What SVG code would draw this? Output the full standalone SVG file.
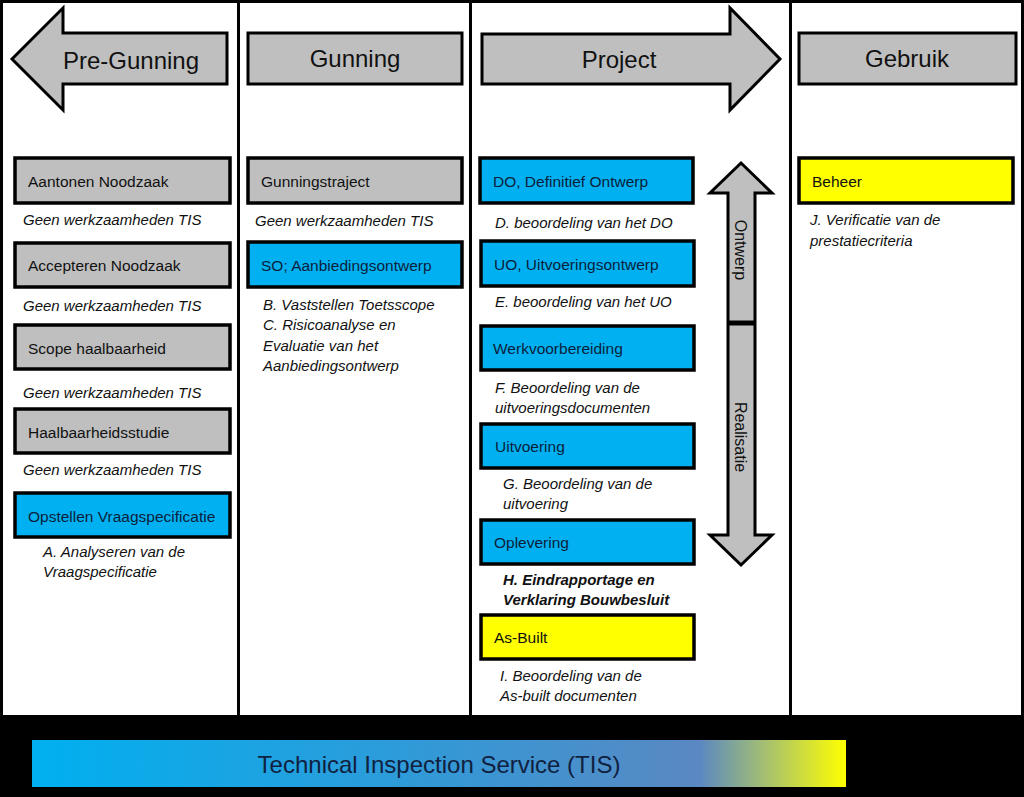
<svg xmlns="http://www.w3.org/2000/svg" width="1024" height="797" viewBox="0 0 1024 797">
<defs>
<linearGradient id="tis" x1="0" y1="0" x2="1" y2="0">
<stop offset="0" stop-color="#00B0F0"/>
<stop offset="0.45" stop-color="#2E9BD9"/>
<stop offset="0.82" stop-color="#5A88C2"/>
<stop offset="0.9" stop-color="#A4BF72"/>
<stop offset="1" stop-color="#FFFF00"/>
</linearGradient>
</defs>
<style>
.col{fill:#FFFFFF}
.hdr{fill:#BFBFBF;stroke:#000;stroke-width:3;stroke-linejoin:miter}
.htxt{font-family:"Liberation Sans",Arial,sans-serif;font-size:24px;fill:#111;text-anchor:middle}
.box{stroke:#000;stroke-width:3.5}
.gray{fill:#BFBFBF}
.blue{fill:#00B0F0}
.yellow{fill:#FFFF00}
.btxt{font-family:"Liberation Sans",Arial,sans-serif;font-size:15.5px;fill:#111}
.bbtxt{font-family:"Liberation Sans",Arial,sans-serif;font-size:15.5px;fill:#0B1E3B}
.note{font-family:"Liberation Sans",Arial,sans-serif;font-size:15px;font-style:italic;fill:#111}
.noteb{font-family:"Liberation Sans",Arial,sans-serif;font-size:15px;font-style:italic;font-weight:bold;fill:#111}
.vtxt{font-family:"Liberation Sans",Arial,sans-serif;font-size:16px;fill:#111;text-anchor:middle}
</style>
<rect x="0" y="0" width="1024" height="797" fill="#000"/>
<g id="columns">
<rect class="col" x="3" y="3" width="234" height="712"/>
<rect class="col" x="240" y="3" width="229" height="712"/>
<rect class="col" x="472" y="3" width="317" height="712"/>
<rect class="col" x="792" y="3" width="229" height="712"/>
</g>
<g id="hdr-pregunning">
<polygon class="hdr" points="12,59 63,8 63,33 227,33 227,84 63,84 63,110"/>
<text class="htxt" x="131" y="69">Pre-Gunning</text>
</g>
<g id="hdr-gunning">
<rect class="hdr" x="248" y="33" width="214" height="51"/>
<text class="htxt" x="355" y="67">Gunning</text>
</g>
<g id="hdr-project">
<polygon class="hdr" points="482,34 730,34 730,8 780,59 730,110 730,84 482,84"/>
<text class="htxt" x="619" y="68">Project</text>
</g>
<g id="hdr-gebruik">
<rect class="hdr" x="799" y="33" width="217" height="51"/>
<text class="htxt" x="907" y="67">Gebruik</text>
</g>

<g id="n-aantonen">
<rect class="box gray" x="15" y="158" width="215" height="45"/>
<text class="btxt" x="28" y="187">Aantonen Noodzaak</text>
</g>
<text class="note" x="23" y="225">Geen werkzaamheden TIS</text>
<g id="n-accepteren">
<rect class="box gray" x="15" y="243" width="215" height="44"/>
<text class="btxt" x="28" y="271">Accepteren Noodzaak</text>
</g>
<text class="note" x="23" y="311">Geen werkzaamheden TIS</text>
<g id="n-scope">
<rect class="box gray" x="15" y="325" width="215" height="44"/>
<text class="btxt" x="28" y="354">Scope haalbaarheid</text>
</g>
<text class="note" x="23" y="398">Geen werkzaamheden TIS</text>
<g id="n-haalbaarheid">
<rect class="box gray" x="15" y="409" width="215" height="44"/>
<text class="btxt" x="28" y="438">Haalbaarheidsstudie</text>
</g>
<text class="note" x="23" y="475">Geen werkzaamheden TIS</text>
<g id="n-opstellen">
<rect class="box blue" x="15" y="493" width="215" height="44"/>
<text class="bbtxt" x="28" y="522">Opstellen Vraagspecificatie</text>
</g>
<text class="note" x="43" y="557">A. Analyseren van de</text>
<text class="note" x="43" y="577">Vraagspecificatie</text>

<g id="n-gunningstraject">
<rect class="box gray" x="248" y="158" width="214" height="45"/>
<text class="btxt" x="261" y="187">Gunningstraject</text>
</g>
<text class="note" x="255" y="226">Geen werkzaamheden TIS</text>
<g id="n-so">
<rect class="box blue" x="248" y="242" width="214" height="45"/>
<text class="bbtxt" x="261" y="271">SO; Aanbiedingsontwerp</text>
</g>
<text class="note" x="263" y="310">B. Vaststellen Toetsscope</text>
<text class="note" x="263" y="330">C. Risicoanalyse en</text>
<text class="note" x="263" y="351">Evaluatie van het</text>
<text class="note" x="263" y="371">Aanbiedingsontwerp</text>

<g id="n-do">
<rect class="box blue" x="480" y="158" width="213" height="45"/>
<text class="bbtxt" x="493" y="187">DO, Definitief Ontwerp</text>
</g>
<text class="note" x="495" y="228">D. beoordeling van het DO</text>
<g id="n-uo">
<rect class="box blue" x="481" y="241" width="213" height="45"/>
<text class="bbtxt" x="494" y="270">UO, Uitvoeringsontwerp</text>
</g>
<text class="note" x="495" y="307">E. beoordeling van het UO</text>
<g id="n-werkvoorbereiding">
<rect class="box blue" x="481" y="326" width="213" height="44"/>
<text class="bbtxt" x="493" y="354">Werkvoorbereiding</text>
</g>
<text class="note" x="495" y="393">F. Beoordeling van de</text>
<text class="note" x="495" y="413">uitvoeringsdocumenten</text>
<g id="n-uitvoering">
<rect class="box blue" x="481" y="424" width="213" height="44"/>
<text class="bbtxt" x="495" y="452">Uitvoering</text>
</g>
<text class="note" x="503" y="489">G. Beoordeling van de</text>
<text class="note" x="503" y="509">uitvoering</text>
<g id="n-oplevering">
<rect class="box blue" x="481" y="520" width="213" height="44"/>
<text class="bbtxt" x="494" y="548">Oplevering</text>
</g>
<text class="noteb" x="503" y="585">H. Eindrapportage en</text>
<text class="noteb" x="503" y="605">Verklaring Bouwbesluit</text>
<g id="n-asbuilt">
<rect class="box yellow" x="481" y="615" width="213" height="44"/>
<text class="btxt" x="494" y="643">As-Built</text>
</g>
<text class="note" x="500" y="681">I. Beoordeling van de</text>
<text class="note" x="500" y="701">As-built documenten</text>

<g id="n-beheer">
<rect class="box yellow" x="799" y="158" width="214" height="45"/>
<text class="btxt" x="812" y="187">Beheer</text>
</g>
<text class="note" x="810" y="225">J. Verificatie van de</text>
<text class="note" x="810" y="246">prestatiecriteria</text>

<g id="ontwerp-realisatie">
<polygon class="hdr" points="741,163 772,193 755,193 755,535 772,535 741,565 710,535 728,535 728,193 710,193"/>
<line x1="728" y1="323" x2="755" y2="323" stroke="#000" stroke-width="5"/>
<text class="vtxt" transform="translate(741,250) rotate(90)" x="0" y="6">Ontwerp</text>
<text class="vtxt" transform="translate(741,437) rotate(90)" x="0" y="6">Realisatie</text>
</g>

<g id="connectors"/>

<g id="tis-bar">
<rect x="32" y="740" width="814" height="47" fill="url(#tis)"/>
<text x="439" y="773" font-family="Liberation Sans, Arial, sans-serif" font-size="24" fill="#10213F" text-anchor="middle">Technical Inspection Service (TIS)</text>
</g>
</svg>
